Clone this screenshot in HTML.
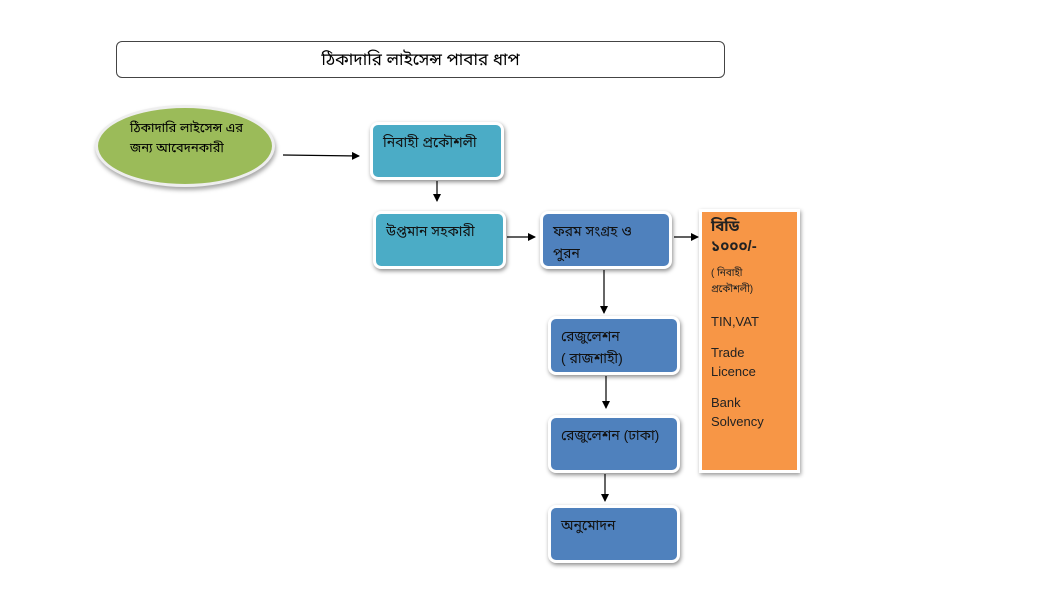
<!DOCTYPE html>
<html><head><meta charset="utf-8"><style>
body{margin:0;width:1053px;height:593px;background:#fff;position:relative;overflow:hidden;font-family:"Liberation Sans","Noto Sans Bengali","Lohit Bengali","FreeSerif",sans-serif;}
.b{position:absolute;box-sizing:border-box;border:3px solid #fff;border-radius:8px;box-shadow:1px 2px 4px rgba(0,0,0,.45);font-size:14px;color:#111;padding:6px 10px;line-height:22px;}
.t{background:#4bacc6}.d{background:#4f81bd}
</style></head><body>
<div style="position:absolute;left:116px;top:41px;width:609px;height:37px;box-sizing:border-box;border:1px solid #444;border-radius:6px;text-align:center;line-height:35px;font-size:17px;">ঠিকাদারি লাইসেন্স পাবার ধাপ</div>
<div style="position:absolute;left:95px;top:105px;width:180px;height:82px;box-sizing:border-box;border:3px solid #eee;border-radius:50%;background:#9bbb59;box-shadow:1px 3px 4px rgba(0,0,0,.35);font-size:13px;padding:10px 0 0 32px;line-height:20px;">ঠিকাদারি লাইসেন্স এর<br>জন্য আবেদনকারী</div>
<div class="b t" style="left:370px;top:122px;width:134px;height:58px;">নিবাহী প্রকৌশলী</div>
<div class="b t" style="left:373px;top:211px;width:133px;height:58px;">উপ্তমান সহকারী</div>
<div class="b d" style="left:540px;top:211px;width:132px;height:58px;">ফরম সংগ্রহ ও<br>পুরন</div>
<div class="b d" style="left:548px;top:316px;width:132px;height:59px;">রেজুলেশন<br>( রাজশাহী)</div>
<div class="b d" style="left:548px;top:415px;width:132px;height:58px;">রেজুলেশন (ঢাকা)</div>
<div class="b d" style="left:548px;top:505px;width:132px;height:58px;">অনুমোদন</div>
<div style="position:absolute;left:699px;top:209px;width:101px;height:264px;box-sizing:border-box;border:3px solid #fff;background:#f79646;box-shadow:1px 2px 4px rgba(0,0,0,.4);padding:5px 0 0 9px;font-size:13px;color:#222;">
<div style="font-weight:bold;font-size:15px;line-height:20px;">বিডি<br>১০০০/-</div>
<div style="font-size:10px;line-height:16px;margin-top:9px;">( নিবাহী<br>প্রকৌশলী)</div>
<div style="line-height:19px;margin-top:14px;">TIN,VAT</div>
<div style="line-height:19px;margin-top:12px;">Trade<br>Licence</div>
<div style="line-height:19px;margin-top:12px;">Bank<br>Solvency</div>
</div>
<svg width="1053" height="593" style="position:absolute;left:0;top:0">
<defs><marker id="a" markerWidth="8" markerHeight="8" refX="7" refY="4" orient="auto" markerUnits="userSpaceOnUse"><path d="M0,0L8,4L0,8z" fill="#000"/></marker></defs>
<g stroke="#000" stroke-width="1.2" marker-end="url(#a)">
<line x1="283" y1="155" x2="359" y2="156"/>
<line x1="437" y1="181" x2="437" y2="201"/>
<line x1="507" y1="237" x2="535" y2="237"/>
<line x1="674" y1="237" x2="698" y2="237"/>
<line x1="604" y1="270" x2="604" y2="313"/>
<line x1="606" y1="376" x2="606" y2="408"/>
<line x1="605" y1="474" x2="605" y2="501"/>
</g></svg>
</body></html>
